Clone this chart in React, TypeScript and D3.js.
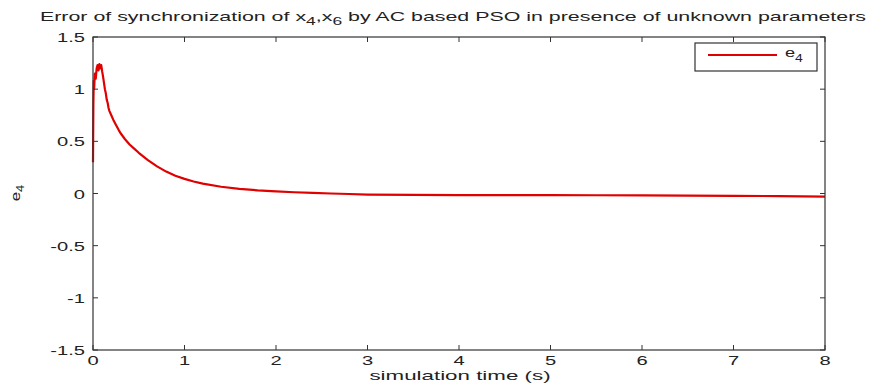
import React from "react";
import * as d3 from "d3";

const times = [0, 0.004, 0.008, 0.012, 0.02, 0.03, 0.04, 0.05, 0.06, 0.07, 0.08, 0.09, 0.1, 0.11, 0.12, 0.13, 0.14, 0.15, 0.16, 0.17, 0.18, 0.2, 0.22, 0.25, 0.28, 0.3, 0.35, 0.4, 0.45, 0.5, 0.6, 0.7, 0.8, 0.9, 1.0, 1.1, 1.2, 1.4, 1.6, 1.8, 2.0, 2.2, 2.4, 2.6, 2.8, 3.0, 3.5, 4.0, 4.5, 5.0, 5.5, 6.0, 6.5, 7.0, 7.5, 8.0];
const e4 = [0.3, 0.85, 1.08, 1.0, 1.15, 1.1, 1.2, 1.23, 1.18, 1.24, 1.2, 1.23, 1.17, 1.12, 1.06, 1.0, 0.96, 0.9, 0.87, 0.82, 0.79, 0.75, 0.71, 0.66, 0.61, 0.58, 0.52, 0.47, 0.43, 0.39, 0.32, 0.26, 0.21, 0.17, 0.14, 0.115, 0.095, 0.065, 0.045, 0.03, 0.02, 0.012, 0.006, 0.0, -0.005, -0.01, -0.013, -0.015, -0.015, -0.016, -0.017, -0.018, -0.02, -0.022, -0.025, -0.03];
const xTicks = [0, 1, 2, 3, 4, 5, 6, 7, 8];
const yTicks = [-1.5, -1, -0.5, 0, 0.5, 1, 1.5];

const W = 884, H = 388;
const L = 93, R = 825, T = 37, B = 350;
const FONT = "'Liberation Sans', Arial, sans-serif";
const SX = 1.55;

export default function App() {
  const x = d3.scaleLinear().domain([0, 8]).range([L, R]);
  const y = d3.scaleLinear().domain([-1.5, 1.5]).range([B, T]);
  const line = d3.line<number>().x((_, i) => x(times[i])).y((d) => y(d));
  const ax = "#333";
  return (
    <svg width={W} height={H} style={{ position: "absolute", left: 0, top: 0, background: "#fff" }}>
      <rect x={0} y={0} width={W} height={H} fill="#fff" />
      <path d={line(e4) || ""} fill="none" stroke="#e00000" strokeWidth={2.2} strokeLinejoin="round" />
      <rect x={L} y={T} width={R - L} height={B - T} fill="none" stroke={ax} strokeWidth={1.2} />
      {xTicks.map((t) => (
        <g key={"x" + t}>
          <line x1={x(t)} x2={x(t)} y1={B} y2={B - 5} stroke={ax} />
          <line x1={x(t)} x2={x(t)} y1={T} y2={T + 5} stroke={ax} />
          <text transform={`translate(${x(t)},365) scale(${SX},1)`} textAnchor="middle" fontFamily={FONT} fontSize={13} fill="#222">{t}</text>
        </g>
      ))}
      {yTicks.map((t) => (
        <g key={"y" + t}>
          <line x1={L} x2={L + 5} y1={y(t)} y2={y(t)} stroke={ax} />
          <line x1={R} x2={R - 5} y1={y(t)} y2={y(t)} stroke={ax} />
          <text transform={`translate(85,${y(t) + 5}) scale(${SX},1)`} textAnchor="end" fontFamily={FONT} fontSize={13} fill="#222">{t}</text>
        </g>
      ))}
      <text x={40} y={21} textLength={826} lengthAdjust="spacingAndGlyphs" fontFamily={FONT} fontSize={13.5} fill="#222">
        Error of synchronization of x<tspan dy={4} fontSize={11}>4</tspan><tspan dy={-4}>,x</tspan><tspan dy={4} fontSize={11}>6</tspan><tspan dy={-4}> by AC based PSO in presence of unknown parameters</tspan>
      </text>
      <text transform="translate(460,380) scale(1.72,1)" textAnchor="middle" fontFamily={FONT} fontSize={13} fill="#222">simulation time (s)</text>
      <text transform="translate(20,193) rotate(-90) scale(1.3,1)" textAnchor="middle" fontFamily={FONT} fontSize={13} fill="#222">
        e<tspan dy={4} fontSize={10}>4</tspan>
      </text>
      <rect x={695} y={43} width={122} height={28} fill="#fff" stroke={ax} strokeWidth={1.2} />
      <line x1={708} x2={777} y1={55} y2={55} stroke="#e00000" strokeWidth={2.2} />
      <text transform="translate(785,57) scale(1.4,1)" fontFamily={FONT} fontSize={13} fill="#222">
        e<tspan dy={5} fontSize={10}>4</tspan>
      </text>
    </svg>
  );
}
